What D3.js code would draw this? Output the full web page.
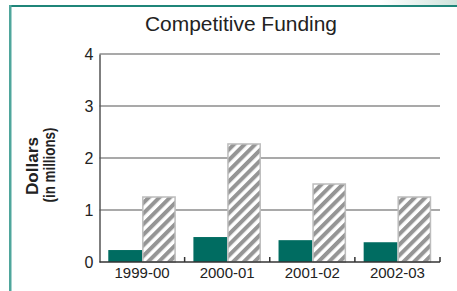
<!DOCTYPE html>
<html>
<head>
<meta charset="utf-8">
<script src="https://cdn.jsdelivr.net/npm/d3@7"></script>
<style>
  html, body { margin: 0; padding: 0; background: #fff; }
  svg { display: block; }
  text { font-family: "Liberation Sans Narrow", "Arial Narrow", "Liberation Sans", sans-serif; fill: #222; }
</style>
</head>
<body>
<svg id="chart" width="457" height="291"></svg>
<script>
const years = ["1999-00", "2000-01", "2001-02", "2002-03"];
const solidValues = [0.23, 0.48, 0.42, 0.38];
const hatchedValues = [1.25, 2.27, 1.5, 1.25];
const yTicks = [0, 1, 2, 3, 4];
const title = "Competitive Funding";

const svg = d3.select("#chart");
const margin = { left: 99.5, right: 440, top: 54, bottom: 262 };

// frame
const defs = svg.append("defs");
const grad = defs.append("linearGradient").attr("id", "fade").attr("x1", 0).attr("x2", 1);
grad.append("stop").attr("offset", 0).attr("stop-color", "#fff");
grad.append("stop").attr("offset", 1).attr("stop-color", "#cfe3dc");
svg.append("rect").attr("x", 380).attr("y", 0).attr("width", 77).attr("height", 5).attr("fill", "url(#fade)");
svg.append("rect").attr("x", 9).attr("y", 5).attr("width", 448).attr("height", 2).attr("fill", "#1f8579");
svg.append("rect").attr("x", 9).attr("y", 5).attr("width", 2.5).attr("height", 286).attr("fill", "#4fa69c");

const pat = defs.append("pattern")
  .attr("id", "hatch")
  .attr("patternUnits", "userSpaceOnUse")
  .attr("width", 7.5).attr("height", 7.5)
  .attr("patternTransform", "rotate(45)");
pat.append("rect").attr("width", 7.5).attr("height", 7.5).attr("fill", "#fff");
pat.append("rect").attr("width", 4).attr("height", 7.5).attr("fill", "#959595");

svg.append("text")
  .attr("x", 241).attr("y", 31)
  .attr("text-anchor", "middle")
  .attr("textLength", 192).attr("lengthAdjust", "spacingAndGlyphs")
  .style("font-size", "20px")
  .text(title);

const x = d3.scaleBand().domain(years).range([margin.left, margin.right]).padding(0);
const x1 = d3.scaleBand().domain(["solid", "hatched"]).range([0, x.bandwidth()])
  .paddingInner(0).paddingOuter(0.26);
const y = d3.scaleLinear().domain([0, 4]).range([margin.bottom, margin.top]);

// gridlines
svg.append("g")
  .selectAll("line")
  .data(yTicks.filter(d => d > 0))
  .join("line")
  .attr("x1", margin.left).attr("x2", margin.right)
  .attr("y1", d => y(d)).attr("y2", d => y(d))
  .attr("stroke", "#8c8c8c").attr("stroke-width", 1.5);

// y axis
const yAxis = svg.append("g")
  .attr("transform", `translate(${margin.left},0)`)
  .call(d3.axisLeft(y).tickValues(yTicks).tickSize(0).tickPadding(6).tickFormat(d3.format("d")));
yAxis.select(".domain").attr("stroke", "#555").attr("stroke-width", 1.5);
yAxis.selectAll("text").style("font-size", "16px").attr("fill", "#222");

svg.append("text")
  .attr("transform", "translate(38,166) rotate(-90)")
  .attr("text-anchor", "middle")
  .attr("textLength", 58).attr("lengthAdjust", "spacingAndGlyphs")
  .style("font-size", "16px").style("font-weight", "bold")
  .text("Dollars");
svg.append("text")
  .attr("transform", "translate(55,165) rotate(-90)")
  .attr("text-anchor", "middle")
  .attr("textLength", 75).attr("lengthAdjust", "spacingAndGlyphs")
  .style("font-size", "16px").style("font-weight", "bold")
  .text("(in millions)");

// bars
const groups = svg.append("g")
  .selectAll("g")
  .data(years)
  .join("g")
  .attr("transform", d => `translate(${x(d)},0)`);

groups.append("rect")
  .attr("x", x1("solid"))
  .attr("width", x1.bandwidth())
  .attr("y", (d, i) => y(solidValues[i]))
  .attr("height", (d, i) => y(0) - y(solidValues[i]))
  .attr("fill", "#006c61");

groups.append("rect")
  .attr("x", x1("hatched") + 0.75)
  .attr("width", x1.bandwidth() - 1.5)
  .attr("y", (d, i) => y(hatchedValues[i]))
  .attr("height", (d, i) => y(0) - y(hatchedValues[i]))
  .attr("fill", "url(#hatch)")
  .attr("stroke", "#bdbdbd").attr("stroke-width", 1.5);

// x axis
const xAxis = svg.append("g")
  .attr("transform", `translate(0,${margin.bottom})`)
  .call(d3.axisBottom(x).tickSize(0).tickPadding(5));
xAxis.select(".domain").remove();
xAxis.selectAll("text").style("font-size", "15px").attr("fill", "#222");

svg.append("line")
  .attr("x1", margin.left).attr("x2", margin.right)
  .attr("y1", margin.bottom).attr("y2", margin.bottom)
  .attr("stroke", "#333").attr("stroke-width", 1.5);

const bounds = years.slice(1).map(d => x(d)).concat([margin.right]);
svg.append("g")
  .selectAll("line")
  .data(bounds)
  .join("line")
  .attr("x1", d => d).attr("x2", d => d)
  .attr("y1", margin.bottom - 5).attr("y2", margin.bottom)
  .attr("stroke", "#333").attr("stroke-width", 1.5);
</script>
</body>
</html>
